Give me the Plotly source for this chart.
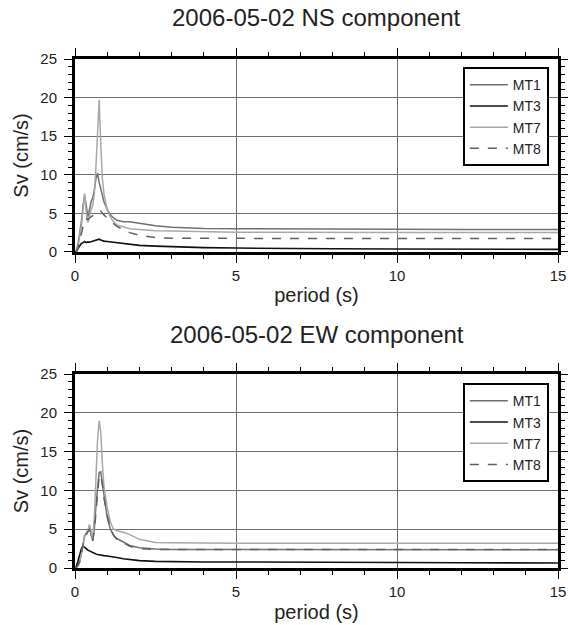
import plotly.graph_objects as go
from plotly.subplots import make_subplots

# period axis (s), shared by every curve
period = [0, 0.05, 0.1, 0.15, 0.2, 0.25, 0.3, 0.35, 0.4, 0.45, 0.5, 0.55, 0.6, 0.65,
          0.7, 0.75, 0.8, 0.85, 0.9, 1.0, 1.1, 1.2, 1.3, 1.5, 1.7, 2.0, 2.5, 3.0,
          4.0, 5.0, 6.0, 8.0, 10.0, 12.0, 15.0]

# NS component, Sv (cm/s)
ns_mt1 = [0, 0.3, 1.2, 2.5, 4.0, 6.0, 7.3, 6.0, 4.5, 5.5, 6.5, 7.0, 8.0, 9.5,
          10.2, 9.0, 8.2, 7.2, 6.5, 5.5, 4.8, 4.4, 4.1, 3.9, 3.9, 3.7, 3.4, 3.2,
          3.05, 3.0, 3.0, 2.95, 2.95, 2.9, 2.9]
ns_mt3 = [0, 0.1, 0.5, 0.9, 1.1, 1.2, 1.35, 1.2, 1.3, 1.25, 1.3, 1.35, 1.4, 1.5,
          1.6, 1.65, 1.55, 1.45, 1.4, 1.35, 1.3, 1.25, 1.2, 1.05, 0.95, 0.85, 0.75, 0.68,
          0.55, 0.5, 0.45, 0.4, 0.37, 0.35, 0.33]
ns_mt7 = [0, 0.2, 0.8, 2.0, 3.5, 5.5, 7.6, 5.0, 3.8, 4.5, 5.5, 6.0, 7.5, 11.0,
          16.5, 19.7, 14.0, 9.5, 7.5, 5.5, 4.5, 3.9, 3.5, 3.2, 3.0, 2.9, 2.75, 2.7,
          2.6, 2.55, 2.55, 2.5, 2.5, 2.5, 2.5]
ns_mt8 = [0, 0.1, 0.6, 1.5, 2.5, 3.5, 4.2, 4.3, 4.2, 4.4, 4.6, 4.7, 4.8, 5.0,
          5.2, 5.4, 5.3, 5.0, 4.8, 4.4, 4.0, 3.6, 3.3, 2.9, 2.5, 2.15, 1.85, 1.78,
          1.75, 1.75, 1.75, 1.75, 1.75, 1.75, 1.75]

# EW component, Sv (cm/s)
ew_mt1 = [0, 0.1, 0.4, 0.9, 2.0, 3.2, 4.2, 4.5, 4.8, 5.4, 4.2, 3.6, 5.0, 8.0,
          10.5, 12.3, 12.4, 11.0, 9.0, 6.5, 5.0, 4.2, 3.8, 3.3, 2.9, 2.6, 2.45, 2.4,
          2.4, 2.4, 2.4, 2.4, 2.4, 2.35, 2.35]
ew_mt3 = [0, 0.3, 1.0, 1.8, 2.5, 2.8, 2.7, 2.5, 2.3, 2.2, 2.0, 1.9, 1.85, 1.8,
          1.75, 1.7, 1.7, 1.65, 1.6, 1.55, 1.5, 1.45, 1.35, 1.2, 1.1, 0.95, 0.85, 0.8,
          0.78, 0.78, 0.75, 0.72, 0.7, 0.68, 0.65]
ew_mt7 = [0, 0.1, 0.3, 0.8, 1.8, 3.0, 4.0, 4.5, 4.9, 5.6, 4.5, 3.8, 6.5, 12.0,
          16.5, 19.0, 17.5, 13.5, 10.5, 7.8, 5.9, 5.0, 4.8, 4.6, 4.3, 3.7, 3.3, 3.25,
          3.2, 3.2, 3.2, 3.2, 3.2, 3.2, 3.2]
ew_mt8 = [0, 0.1, 0.35, 0.9, 1.9, 3.0, 4.0, 4.3, 4.6, 5.0, 4.0, 3.5, 4.8, 7.5,
          10.0, 11.8, 12.0, 10.8, 9.0, 6.8, 5.2, 4.2, 3.7, 3.2, 2.8, 2.5, 2.4, 2.4,
          2.4, 2.4, 2.4, 2.4, 2.4, 2.4, 2.4]

stations = ["MT1", "MT3", "MT7", "MT8"]
styles = {
    "MT1": dict(color="#707070", width=1.5),
    "MT3": dict(color="#111111", width=1.6),
    "MT7": dict(color="#a8a8a8", width=1.5),
    "MT8": dict(color="#606060", width=1.5, dash="dash"),
}
panels = [
    ("2006-05-02 NS component", [ns_mt1, ns_mt3, ns_mt7, ns_mt8], "legend"),
    ("2006-05-02 EW component", [ew_mt1, ew_mt3, ew_mt7, ew_mt8], "legend2"),
]

FONT = "Liberation Sans, Arial, sans-serif"

fig = make_subplots(rows=2, cols=1)

for i, (title, series, leg) in enumerate(panels):
    row = i + 1
    for name, vals in zip(stations, series):
        fig.add_trace(
            go.Scatter(x=period, y=vals, name=name, mode="lines",
                       line=styles[name], legend=leg),
            row=row, col=1,
        )

# axes styling
axis_common = dict(
    showline=True, linecolor="black", linewidth=3, mirror="ticks",
    ticks="outside", ticklen=8, tickwidth=1, tickcolor="black",
    showgrid=True, gridcolor="#6e6e6e", gridwidth=1.3,
    zeroline=False, automargin=False,
    tickfont=dict(family=FONT, size=15, color="#222"),
    minor=dict(ticks="outside", ticklen=4, tickcolor="black", dtick=1, showgrid=False),
)
fig.update_xaxes(range=[0, 15], dtick=5, tick0=0,
                 title=dict(text="period (s)", font=dict(family=FONT, size=20, color="#222"),
                            standoff=6),
                 **axis_common)
fig.update_yaxes(range=[0, 25], dtick=5, tick0=0, ticklabelstandoff=4,
                 title=dict(text="Sv (cm/s)", font=dict(family=FONT, size=20, color="#222"),
                            standoff=7),
                 **axis_common)

legend_common = dict(
    xanchor="left", yanchor="top", bgcolor="white",
    bordercolor="black", borderwidth=2, itemwidth=38,
    font=dict(family=FONT, size=14, color="#222"), tracegroupgap=0,
)

fig.update_layout(
    width=568, height=625,
    margin=dict(l=75, r=10, t=59, b=57),
    paper_bgcolor="white", plot_bgcolor="white",
    xaxis=dict(domain=[0, 1]),
    yaxis=dict(domain=[0.621, 1]),
    xaxis2=dict(domain=[0, 1]),
    yaxis2=dict(domain=[0, 0.381]),
    legend=dict(x=0.803, y=0.984, **legend_common),
    legend2=dict(x=0.803, y=0.363, **legend_common),
    annotations=[
        dict(text=panels[0][0], x=0.5, y=1.0806, xref="paper", yref="paper",
             yanchor="middle", showarrow=False,
             font=dict(family=FONT, size=24, color="#222")),
        dict(text=panels[1][0], x=0.5, y=0.4578, xref="paper", yref="paper",
             yanchor="middle", showarrow=False,
             font=dict(family=FONT, size=24, color="#222")),
    ],
)

# drop the default page margin so the figure fills the window exactly
fig.write_html("out.html",
               config={"displayModeBar": False},
               post_script="document.body.style.margin='0';"
                           "document.body.style.overflow='hidden';")
